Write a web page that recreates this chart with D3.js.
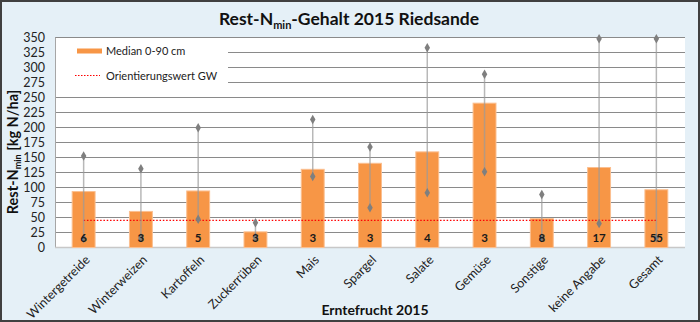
<!DOCTYPE html>
<html><head><meta charset="utf-8">
<script src="https://cdn.jsdelivr.net/npm/d3@7"></script>
<style>body{margin:0;background:#fff}svg{display:block}</style>
</head><body>
<svg id="c" width="700" height="322"></svg>
<script>
const categories = ["Wintergetreide","Winterweizen","Kartoffeln","Zuckerrüben","Mais","Spargel","Salate","Gemüse","Sonstige","keine Angabe","Gesamt"];
const medianValues = [93, 60, 94, 26, 130, 140, 159, 240, 48, 133, 96];
const maxValues = [152, 131, 199, 41, 213, 167, 332, 288, 88, 347, 347];
const minValues = [15, 16, 47, 17, 118, 66, 91, 126, 16, 40, 16];
const counts = [6, 3, 5, 3, 3, 3, 4, 3, 8, 17, 55];
const guideValue = 45;
const yTicks = [0,25,50,75,100,125,150,175,200,225,250,275,300,325,350];

const font = "Lato, 'Open Sans', sans-serif";
const svg = d3.select("#c");
svg.append("rect").attr("x",1).attr("y",1).attr("width",698).attr("height",320)
  .attr("fill","#e5f0f7").attr("stroke","#404040").attr("stroke-width",2);

const m = {l:55, r:685, t:37, b:247.5};
const x = d3.scaleBand().domain(categories).range([m.l, m.r]).paddingInner(0.6).paddingOuter(0.3);
const y = d3.scaleLinear().domain([0,350]).range([m.b, m.t]);
const xc = c => x(c) + x.bandwidth()/2;

svg.append("rect").attr("x",m.l).attr("y",m.t).attr("width",m.r-m.l).attr("height",m.b-m.t).attr("fill","#fff");

// grid
svg.append("g").selectAll("line").data(yTicks.filter(d=>d>0)).join("line")
  .attr("x1",m.l).attr("x2",m.r).attr("y1",d=>Math.round(y(d))+0.5).attr("y2",d=>Math.round(y(d))+0.5)
  .attr("stroke","#8a8a8a").attr("stroke-width",1);

// y axis
const ya = svg.append("g").attr("transform",`translate(${m.l},0)`)
  .call(d3.axisLeft(y).tickValues(yTicks).tickSize(0).tickPadding(10));
ya.select(".domain").attr("stroke","#a6a6a6");
ya.selectAll("text").attr("font-family",font).attr("font-size",12.5).attr("fill","#222");
svg.append("line").attr("x1",m.l).attr("x2",m.r).attr("y1",m.b).attr("y2",m.b).attr("stroke","#c8c8c8").attr("stroke-width",1.5);

// legend box
svg.append("rect").attr("x",m.l+1).attr("y",m.t+1).attr("width",172).attr("height",47).attr("fill","#fff");
svg.append("rect").attr("x",77).attr("y",48.5).attr("width",25).attr("height",5).attr("fill","#f79646");
svg.append("text").attr("x",106).attr("y",55).text("Median 0-90 cm").attr("font-family",font).attr("font-size",11).attr("fill","#222");
svg.append("line").attr("x1",75).attr("x2",100).attr("y1",75.5).attr("y2",75.5).attr("stroke","#ff0000").attr("stroke-width",1.2).attr("stroke-dasharray","1.5,1.5");
svg.append("text").attr("x",106).attr("y",79.5).text("Orientierungswert GW").attr("font-family",font).attr("font-size",11).attr("fill","#222");

// bars
svg.append("g").selectAll("rect").data(categories).join("rect")
  .attr("x",d=>x(d)).attr("width",x.bandwidth())
  .attr("y",(d,i)=>y(medianValues[i])).attr("height",(d,i)=>y(0)-y(medianValues[i]))
  .attr("fill","#f79646").attr("stroke","#fbbf90").attr("stroke-width",1);

// guide line
svg.append("line").attr("x1",xc(categories[0])).attr("x2",xc(categories[categories.length-1]))
  .attr("y1",y(guideValue)).attr("y2",y(guideValue))
  .attr("stroke","#ff0000").attr("stroke-width",1.3).attr("stroke-dasharray","1.5,1.8");

// ranges
const rg = svg.append("g");
rg.selectAll("line").data(categories).join("line")
  .attr("x1",d=>xc(d)).attr("x2",d=>xc(d))
  .attr("y1",(d,i)=>y(minValues[i])).attr("y2",(d,i)=>y(maxValues[i]))
  .attr("stroke","#9a9a9a").attr("stroke-opacity",0.7).attr("stroke-width",1.5);
const diamond = d3.symbol().type(d3.symbolDiamond).size(26);
categories.forEach((c,i)=>{
  [minValues[i],maxValues[i]].forEach(v=>{
    rg.append("path").attr("d",diamond).attr("transform",`translate(${xc(c)},${y(v)})`).attr("fill","#7f7f7f");
  });
});

// counts
svg.append("g").selectAll("text").data(categories).join("text")
  .attr("x",d=>xc(d)).attr("y",y(16)+4.5).attr("text-anchor","middle")
  .text((d,i)=>counts[i]).attr("font-family",font).attr("font-weight","bold").attr("font-size",11.5).attr("fill","#1a1a1a");

// x labels
svg.append("g").selectAll("text").data(categories).join("text")
  .attr("transform",d=>`translate(${xc(d)+4},${m.b+10}) rotate(-45)`)
  .attr("text-anchor","end").attr("dy","0.35em")
  .text(d=>d).attr("font-family",font).attr("font-size",12.5).attr("fill","#222");

// titles
const t = svg.append("text").attr("x",349).attr("y",25).attr("text-anchor","middle")
  .attr("font-family",font).attr("font-weight","bold").attr("font-size",17.5).attr("fill","#111");
t.append("tspan").text("Rest-N");
t.append("tspan").text("min").attr("font-size",11).attr("dy",4);
t.append("tspan").text("-Gehalt 2015 Riedsande").attr("dy",-4);

svg.append("text").attr("x",375).attr("y",315).attr("text-anchor","middle")
  .attr("font-family",font).attr("font-weight","bold").attr("font-size",14).attr("fill","#111").text("Erntefrucht 2015");

const yl = svg.append("text").attr("transform","translate(18,152) rotate(-90)").attr("text-anchor","middle")
  .attr("font-family",font).attr("font-weight","bold").attr("font-size",14.5).attr("fill","#111");
yl.append("tspan").text("Rest-N");
yl.append("tspan").text("min").attr("font-size",9).attr("dy",3);
yl.append("tspan").text(" [kg N/ha]").attr("dy",-3);
</script>
</body></html>
